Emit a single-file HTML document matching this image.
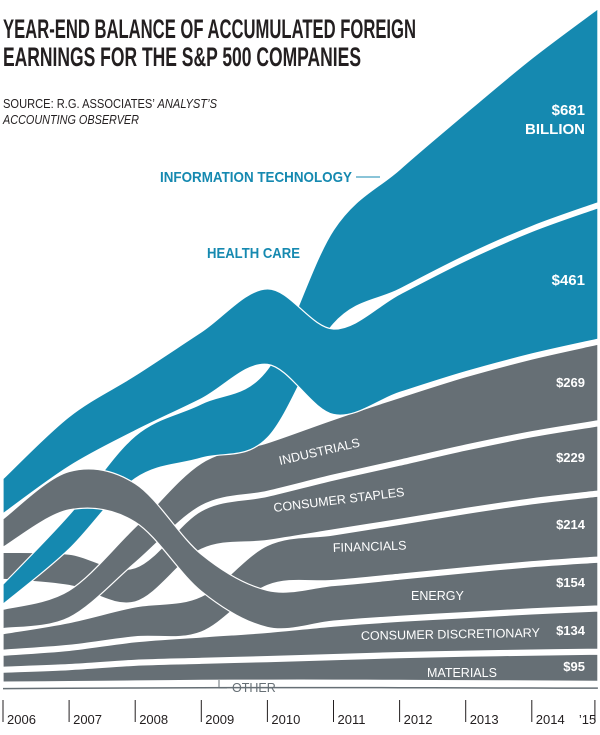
<!DOCTYPE html>
<html><head><meta charset="utf-8"><style>
html,body{margin:0;padding:0;background:#fff;}
svg{display:block;font-family:"Liberation Sans Narrow","Liberation Sans",sans-serif;}
</style></head><body>
<svg id="chart" width="600" height="735" viewBox="0 0 600 735">
<text x="3" y="38" font-size="27" font-weight="bold" fill="#231f20" textLength="413" lengthAdjust="spacingAndGlyphs">YEAR-END BALANCE OF ACCUMULATED FOREIGN</text>
<text x="3" y="66" font-size="27" font-weight="bold" fill="#231f20" textLength="358" lengthAdjust="spacingAndGlyphs">EARNINGS FOR THE S&amp;P 500 COMPANIES</text>
<text x="3" y="108" font-size="13" fill="#231f20" textLength="214" lengthAdjust="spacingAndGlyphs">SOURCE: R.G. ASSOCIATES’ <tspan font-style="italic">ANALYST’S</tspan></text>
<text x="3" y="124" font-size="13" font-style="italic" fill="#231f20" textLength="136" lengthAdjust="spacingAndGlyphs">ACCOUNTING OBSERVER</text>
<g id="bands"></g>
<g id="axis"></g>
<g id="labels" font-weight="bold">
<text x="160" y="182" font-size="15" fill="#1589b0" textLength="192" lengthAdjust="spacingAndGlyphs">INFORMATION TECHNOLOGY</text>
<line x1="356" y1="177" x2="380" y2="177" stroke="#1589b0" stroke-width="1"/>
<text x="207" y="258" font-size="15" fill="#1589b0" textLength="93" lengthAdjust="spacingAndGlyphs">HEALTH CARE</text>
<text x="585" y="115" font-size="15" fill="#fff" text-anchor="end">$681</text>
<text x="585" y="134" font-size="15" fill="#fff" text-anchor="end">BILLION</text>
<text x="585" y="285" font-size="15" fill="#fff" text-anchor="end">$461</text>
<text x="585" y="387" font-size="13" fill="#fff" text-anchor="end">$269</text>
<text x="585" y="462" font-size="13" fill="#fff" text-anchor="end">$229</text>
<text x="585" y="529" font-size="13" fill="#fff" text-anchor="end">$214</text>
<text x="585" y="587" font-size="13" fill="#fff" text-anchor="end">$154</text>
<text x="585" y="635" font-size="13" fill="#fff" text-anchor="end">$134</text>
<text x="585" y="671" font-size="13" fill="#fff" text-anchor="end">$95</text>
<g font-weight="normal" font-size="12.5" fill="#fff">
<text x="280" y="465" transform="rotate(-13 280 465)">INDUSTRIALS</text>
<text x="274" y="512" transform="rotate(-7 274 512)">CONSUMER STAPLES</text>
<text x="333" y="552" transform="rotate(-2 333 552)">FINANCIALS</text>
<text x="411" y="600">ENERGY</text>
<text x="361" y="640" transform="rotate(-1 361 640)">CONSUMER DISCRETIONARY</text>
<text x="427" y="677">MATERIALS</text>
</g>
<path d="M219 680 V688 H227" fill="none" stroke="#666f75" stroke-width="1"/>
<text x="232" y="692" font-size="12.5" font-weight="normal" fill="#666f75">OTHER</text>
</g>
</svg>
<script>
const years = ['2006','2007','2008','2009','2010','2011','2012','2013','2014','\u201915'];
const itVals    = [70,120,150,190,240,330,420,500,590,681];
const hcVals    = [123,175,195,235,265,300,345,390,430,461];
const indVals   = [68,95,125,150,170,195,220,240,255,269];
const stapVals  = [95,110,120,135,155,175,190,205,218,229];
const finVals   = [58,80,105,125,140,160,175,190,203,214];
const enVals    = [100,135,135,130,130,125,130,140,148,154];
const cdVals    = [42,50,65,75,85,100,110,118,127,134];
const matVals   = [35,42,55,60,65,72,80,86,91,95];
const otherVals = [10,12,14,16,17,17,16,15,14,13];

const BLUE='#1589b0', GRAY='#666f75';
const series=[
 {key:'other',v:otherVals,c:GRAY,name:'band-other'},
 {key:'mat',v:matVals,c:GRAY,name:'band-materials'},
 {key:'cd',v:cdVals,c:GRAY,name:'band-consumer-discretionary'},
 {key:'fin',v:finVals,c:GRAY,name:'band-financials'},
 {key:'stap',v:stapVals,c:GRAY,name:'band-consumer-staples'},
 {key:'ind',v:indVals,c:GRAY,name:'band-industrials'},
 {key:'it',v:itVals,c:BLUE,name:'band-information-technology'},
 {key:'hc',v:hcVals,c:BLUE,name:'band-health-care'},
 {key:'en',v:enVals,c:GRAY,name:'band-energy'}
];
const x0=3, dx=66.1, base=690, k=0.285, gap=5;
const xs=i=>x0+i*dx;
const hs=v=>v*k;
series.forEach(s=>{s.top=[];s.bot=[];});
years.forEach((y,i)=>{
  const sorted=series.slice().sort((a,b)=>a.v[i]-b.v[i]);
  let cur=base;
  sorted.forEach(s=>{
    s.bot[i]=cur; cur-=hs(s.v[i]); s.top[i]=cur; cur-=gap;
  });
});
function pts(ys){return ys.map((y,i)=>[xs(i),y]);}
function spline(P,start){
  const n=P.length,t=0.5/3;
  let d=(start?'M':'L')+P[0][0].toFixed(1)+' '+P[0][1].toFixed(1);
  for(let i=0;i<n-1;i++){
    const p0=P[Math.max(i-1,0)],p1=P[i],p2=P[i+1],p3=P[Math.min(i+2,n-1)];
    const c1=[p1[0]+(p2[0]-p0[0])*t, p1[1]+(p2[1]-p0[1])*t];
    const c2=[p2[0]-(p3[0]-p1[0])*t, p2[1]-(p3[1]-p1[1])*t];
    d+=' C'+c1[0].toFixed(1)+' '+c1[1].toFixed(1)+' '+c2[0].toFixed(1)+' '+c2[1].toFixed(1)+' '+p2[0].toFixed(1)+' '+p2[1].toFixed(1);
  }
  return d;
}
const NS='http://www.w3.org/2000/svg';
const g=document.getElementById('bands');
series.forEach(s=>{
  const p=document.createElementNS(NS,'path');
  if(s.key==='other'){
    p.setAttribute('d',spline(pts(s.top.map((t,i)=>(t+s.bot[i])/2)),true));
    p.setAttribute('fill','none');
    p.setAttribute('stroke',GRAY);
    p.setAttribute('stroke-width','1.5');
  } else {
    p.setAttribute('d',spline(pts(s.top),true)+' '+spline(pts(s.bot).reverse(),false)+' Z');
    p.setAttribute('fill',s.c);
    p.setAttribute('stroke','#fff');
    p.setAttribute('stroke-width','1.2');
  }
  
  
  g.appendChild(p);
});
const ax=document.getElementById('axis');
years.forEach((y,i)=>{
  const X=xs(i)+(i===years.length-1?-3:0);
  const l=document.createElementNS(NS,'line');
  l.setAttribute('x1',X);l.setAttribute('x2',X);l.setAttribute('y1',700);l.setAttribute('y2',722);
  l.setAttribute('stroke','#231f20');l.setAttribute('stroke-width','1');
  
  
  ax.appendChild(l);
  const t=document.createElementNS(NS,'text');
  t.setAttribute('x', i===years.length-1 ? X-16 : X+4);
  t.setAttribute('y',724);t.setAttribute('font-size','13');t.setAttribute('fill','#231f20');
  t.textContent=y;
  
  
  ax.appendChild(t);
});
</script>
</body></html>
